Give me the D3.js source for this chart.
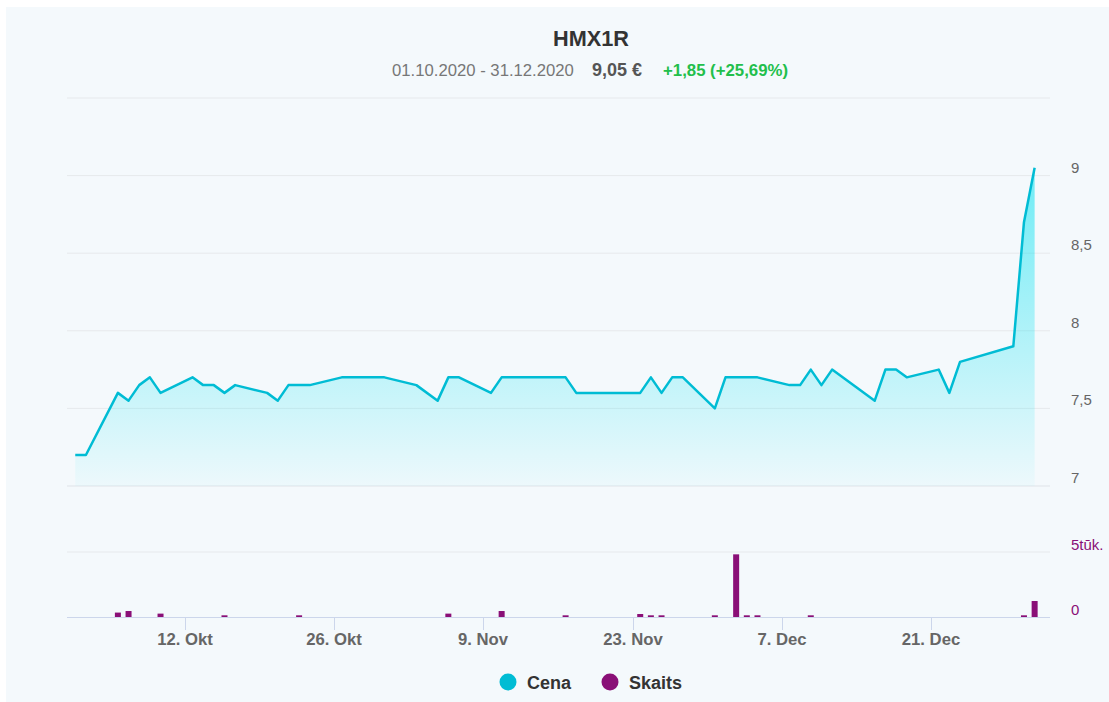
<!DOCTYPE html>
<html>
<head>
<meta charset="utf-8">
<script src="https://cdn.jsdelivr.net/npm/d3@7"></script>
<style>
    html, body { margin: 0; padding: 0; background: #ffffff; }
    #chart-one { width: 1109px; height: 702px; }
    text { font-family: "Liberation Sans", Arial, sans-serif; }
</style>
</head>
<body>
<div id="chart-one"></div>
<script>
//Datos
let dates = [
    '2020-10-01','2020-10-02','2020-10-05','2020-10-06','2020-10-07','2020-10-08','2020-10-09',
    '2020-10-12','2020-10-13','2020-10-14','2020-10-15','2020-10-16','2020-10-19','2020-10-20',
    '2020-10-21','2020-10-22','2020-10-23','2020-10-26','2020-10-27','2020-10-28','2020-10-29',
    '2020-10-30','2020-11-02','2020-11-04','2020-11-05','2020-11-06','2020-11-09','2020-11-10',
    '2020-11-11','2020-11-12','2020-11-13','2020-11-16','2020-11-17','2020-11-18','2020-11-19',
    '2020-11-20','2020-11-23','2020-11-24','2020-11-25','2020-11-26','2020-11-27','2020-11-30',
    '2020-12-01','2020-12-02','2020-12-03','2020-12-04','2020-12-07','2020-12-08','2020-12-09',
    '2020-12-10','2020-12-11','2020-12-15','2020-12-16','2020-12-17','2020-12-18','2020-12-21',
    '2020-12-22','2020-12-23','2020-12-28','2020-12-29','2020-12-30'
];
let prices = [
    7.2, 7.2, 7.6, 7.55, 7.65, 7.7, 7.6,
    7.7, 7.65, 7.65, 7.6, 7.65, 7.6, 7.55,
    7.65, 7.65, 7.65, 7.7, 7.7, 7.7, 7.7,
    7.7, 7.65, 7.55, 7.7, 7.7, 7.6, 7.7,
    7.7, 7.7, 7.7, 7.7, 7.6, 7.6, 7.6,
    7.6, 7.6, 7.7, 7.6, 7.7, 7.7, 7.5,
    7.7, 7.7, 7.7, 7.7, 7.65, 7.65, 7.75,
    7.65, 7.75, 7.55, 7.75, 7.75, 7.7, 7.75,
    7.6, 7.8, 7.9, 8.7, 9.05
];
let volumes = [
    0, 0, 340, 460, 0, 0, 260,
    0, 0, 0, 130, 0, 0, 0,
    0, 130, 0, 0, 0, 0, 0,
    0, 0, 0, 260, 0, 0, 460,
    0, 0, 0, 130, 0, 0, 0,
    0, 230, 130, 130, 0, 0, 130,
    0, 4820, 130, 130, 0, 0, 130,
    0, 0, 0, 0, 0, 0, 0,
    0, 0, 0, 130, 1230
];
let priceTicks = [7, 7.5, 8, 8.5, 9, 9.5];
let volumeTicks = [0, 5000];
let dateTicks = ['2020-10-12','2020-10-26','2020-11-09','2020-11-23','2020-12-07','2020-12-21'];
let monthNames = {10: 'Okt', 11: 'Nov', 12: 'Dec'};

let colorPrice = '#00bcd4';
let colorVolume = '#8a0f77';

function getFirstChart() {
    let chartBlock = d3.select('#chart-one');
    let parse = d3.timeParse('%Y-%m-%d');

    let data = dates.map(function(d, i) {
        //los cierres se registran por la tarde
        let t = d3.timeHour.offset(parse(d), 17);
        return {Fecha: t, Precio: prices[i], Volumen: volumes[i]};
    });

    let svg = chartBlock.append('svg')
        .attr('width', 1109)
        .attr('height', 702);

    //Fondo
    svg.append('rect')
        .attr('x', 6).attr('y', 7)
        .attr('width', 1103).attr('height', 695)
        .attr('fill', '#f4f9fc');

    //Eje X
    let x = d3.scaleTime()
        .domain([parse('2020-10-01'), parse('2021-01-01')])
        .range([67.7, 1048.4]);
    let plotLeft = 67, plotRight = 1050;

    //Ejes Y
    let y = d3.scaleLinear().domain([7, 9.5]).range([486, 98]);
    let yVol = d3.scaleLinear().domain([0, 5000]).range([617, 552]);

    //Rejilla precio
    let grid = svg.append('g');
    grid.selectAll('.grid-price')
        .data(priceTicks)
        .enter()
        .append('line')
        .attr('x1', plotLeft).attr('x2', plotRight)
        .attr('y1', function(d) { return y(d); })
        .attr('y2', function(d) { return y(d); })
        .attr('stroke', function(d) { return d == 7 ? '#dfe3e8' : '#e6e9ec'; })
        .attr('stroke-width', 1);

    grid.append('line')
        .attr('x1', plotLeft).attr('x2', plotRight)
        .attr('y1', yVol(5000)).attr('y2', yVol(5000))
        .attr('stroke', '#e6e9ec');

    //Etiquetas precio
    svg.selectAll('.label-price')
        .data(priceTicks.filter(function(d) { return d < 9.5; }))
        .enter()
        .append('text')
        .attr('x', 1071)
        .attr('y', function(d) { return y(d) - 3; })
        .attr('fill', '#666666')
        .attr('font-size', 15)
        .text(function(d) { return String(d).replace('.', ','); });

    //Etiquetas volumen
    svg.selectAll('.label-vol')
        .data(volumeTicks)
        .enter()
        .append('text')
        .attr('x', 1071)
        .attr('y', function(d) { return yVol(d) - 2.5; })
        .attr('fill', colorVolume)
        .attr('font-size', 15)
        .text(function(d) { return d == 0 ? '0' : (d / 1000) + 'tūk.'; });

    //Area con degradado
    let defs = svg.append('defs');
    let grad = defs.append('linearGradient')
        .attr('id', 'areaGrad')
        .attr('x1', 0).attr('y1', 0).attr('x2', 0).attr('y2', 1);
    grad.append('stop').attr('offset', '0%').attr('stop-color', '#00e1f0').attr('stop-opacity', 0.55);
    grad.append('stop').attr('offset', '100%').attr('stop-color', '#00e1f0').attr('stop-opacity', 0.03);

    let area = d3.area()
        .x(function(d) { return x(d.Fecha); })
        .y0(y(7))
        .y1(function(d) { return y(d.Precio); });

    svg.append('path')
        .datum(data)
        .attr('d', area)
        .attr('fill', 'url(#areaGrad)');

    let line = d3.line()
        .x(function(d) { return x(d.Fecha); })
        .y(function(d) { return y(d.Precio); });

    svg.append('path')
        .datum(data)
        .attr('d', line)
        .attr('fill', 'none')
        .attr('stroke', colorPrice)
        .attr('stroke-width', 2.5)
        .attr('stroke-linejoin', 'round');

    //Barras volumen
    svg.selectAll('.bar')
        .data(data.filter(function(d) { return d.Volumen > 0; }))
        .enter()
        .append('rect')
        .attr('class', 'bar')
        .attr('x', function(d) { return x(d.Fecha) - 3; })
        .attr('width', 6)
        .attr('y', function(d) { return yVol(d.Volumen); })
        .attr('height', function(d) { return yVol(0) - yVol(d.Volumen); })
        .attr('fill', colorVolume);

    //Eje X inferior
    let xAxis = svg.append('g');
    xAxis.append('line')
        .attr('x1', plotLeft).attr('x2', plotRight)
        .attr('y1', yVol(0) + 0.5).attr('y2', yVol(0) + 0.5)
        .attr('stroke', '#ccd6eb');

    let ticks = xAxis.selectAll('.tick')
        .data(dateTicks.map(function(d) { return parse(d); }))
        .enter()
        .append('g')
        .attr('transform', function(d) { return 'translate(' + Math.round(x(d)) + ',0)'; });

    ticks.append('line')
        .attr('x1', 0.5).attr('x2', 0.5)
        .attr('y1', yVol(0)).attr('y2', yVol(0) + 13)
        .attr('stroke', '#ccd6eb');

    ticks.append('text')
        .attr('y', 645)
        .attr('text-anchor', 'middle')
        .attr('fill', '#666666')
        .attr('font-size', 16.7)
        .attr('font-weight', 'bold')
        .text(function(d) { return d.getDate() + '. ' + monthNames[d.getMonth() + 1]; });

    //Titulo
    svg.append('text')
        .attr('x', 591).attr('y', 46)
        .attr('text-anchor', 'middle')
        .attr('fill', '#333333')
        .attr('font-size', 21.7)
        .attr('font-weight', 'bold')
        .text('HMX1R');

    let last = prices[prices.length - 1], first = prices[0];
    let change = last - first;
    let fmt = function(v) { return d3.format('.2f')(v).replace('.', ','); };

    svg.append('text')
        .attr('x', 392).attr('y', 76)
        .attr('fill', '#777777')
        .attr('font-size', 16.7)
        .text('01.10.2020 - 31.12.2020');

    svg.append('text')
        .attr('x', 592).attr('y', 76)
        .attr('fill', '#555555')
        .attr('font-size', 18)
        .attr('font-weight', 'bold')
        .text(fmt(last) + ' €');

    svg.append('text')
        .attr('x', 663).attr('y', 76)
        .attr('fill', '#22bf4b')
        .attr('font-size', 16.8)
        .attr('font-weight', 'bold')
        .text('+' + fmt(change) + ' (+' + fmt(change / first * 100) + '%)');

    //Leyenda
    let legend = [
        {name: 'Cena', color: colorPrice, x: 508},
        {name: 'Skaits', color: colorVolume, x: 610}
    ];
    let items = svg.selectAll('.legend')
        .data(legend)
        .enter()
        .append('g')
        .attr('transform', function(d) { return 'translate(' + d.x + ',682)'; });

    items.append('circle')
        .attr('r', 8.5)
        .attr('fill', function(d) { return d.color; });

    items.append('text')
        .attr('x', 19).attr('y', 7)
        .attr('fill', '#333333')
        .attr('font-size', 18)
        .attr('font-weight', 'bold')
        .text(function(d) { return d.name; });
}

getFirstChart();
</script>
</body>
</html>
